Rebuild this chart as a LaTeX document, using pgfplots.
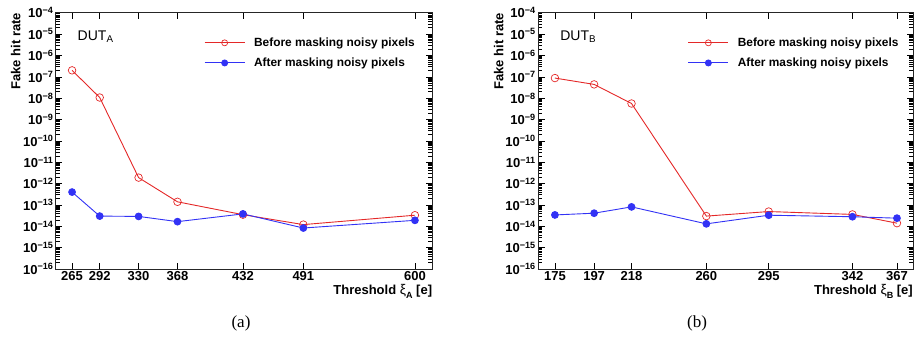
\documentclass[border=0pt]{standalone}
\usepackage{pgfplots}
\pgfplotsset{compat=1.18}
\usepackage{fontspec}
\setmainfont{Liberation Sans}
\newfontfamily\seriffont{Liberation Serif}
\definecolor{rootred}{RGB}{228,40,40}
\definecolor{rootblue}{RGB}{50,50,245}
\newcommand{\E}[1]{\textbf{10}\textsuperscript{\textbf{−#1}}}
\tikzset{
  redplot/.style={color=rootred, line width=0.9pt, mark=o, mark size=3.8pt, mark options={line width=0.7pt}},
  blueplot/.style={color=rootblue, line width=0.9pt, mark=*, mark size=3.4pt},
}
\pgfplotsset{mylegimg/.style={legend image code/.code={\draw[mark repeat=2,mark phase=2,##1,mark size=3pt] plot coordinates {(0pt,0pt) (20pt,0pt) (40pt,0pt)};}}}
\begin{document}
\begin{tikzpicture}
\path[use as bounding box] (0pt,0pt) rectangle (916pt,338pt);
\begin{axis}[at={(55.7pt,69pt)}, anchor=south west, width=376.6pt,
    scale only axis, height=256.3pt,
    ymode=log, ymin=1e-16, ymax=1e-4,
    ytick={1e-16,1e-15,1e-14,1e-13,1e-12,1e-11,1e-10,1e-9,1e-8,1e-7,1e-6,1e-5,1e-4},
    yticklabels={\E{16},\E{15},\E{14},\E{13},\E{12},\E{11},\E{10},\E{9},\E{8},\E{7},\E{6},\E{5},\E{4}},
    tick align=inside,
    major tick length=6.5pt, minor tick length=4pt,
    tick style={black, line width=0.5pt},
    axis line style={line width=0.8pt, black!85},
    xmin=249, xmax=617,
    xtick={265,292,330,368,432,491,600},
    xticklabels={265,292,330,368,432,491,600},
    xticklabel style={font=\bfseries\fontsize{13}{15}\selectfont, inner sep=1pt, yshift=-1pt},
    yticklabel style={font=\fontsize{13}{15}\selectfont, inner sep=1pt, xshift=-1pt},
    xlabel style={at={(rel axis cs:1,0)}, anchor=north east, inner sep=0pt, yshift=-15pt, font=\bfseries\fontsize{13}{15}\selectfont},
    ylabel style={at={(rel axis cs:-0.1062,1)}, anchor=east, inner sep=0pt, font=\bfseries\fontsize{13}{15}\selectfont},
    xlabel={Threshold {\mdseries\fontsize{14}{15}\selectfont ξ}\raisebox{-4.5pt}{\fontsize{9}{10}\selectfont A} [e]},
    ylabel={Fake hit rate},
    legend style={at={(rel axis cs:0.3938,0.903)}, draw=none, fill=none, inner sep=0pt, anchor=north west,
      font=\bfseries\fontsize{11.9}{13}\selectfont, row sep=10pt, nodes={inner sep=0pt},
      /tikz/every odd column/.append style={column sep=9pt}},
    legend cell align=left]
\addplot[redplot, mylegimg] coordinates {(265,2.0e-7) (292,1.07e-8) (330,1.9e-12) (368,1.4e-13) (432,3.5e-14) (491,1.2e-14) (600,3.3e-14)};
\addlegendentry{Before masking noisy pixels}
\addplot[blueplot, mylegimg] coordinates {(265,4.0e-13) (292,3.0e-14) (330,2.9e-14) (368,1.65e-14) (432,3.8e-14) (491,8.3e-15) (600,1.9e-14)};
\addlegendentry{After masking noisy pixels}
\node[anchor=base west, inner sep=0pt, font=\fontsize{14}{15}\selectfont] at (rel axis cs:0.058,0.891) {DUT\textsubscript{A}};
\end{axis}
\begin{axis}[at={(538pt,69pt)}, anchor=south west, width=375pt,
    scale only axis, height=256.3pt,
    ymode=log, ymin=1e-16, ymax=1e-4,
    ytick={1e-16,1e-15,1e-14,1e-13,1e-12,1e-11,1e-10,1e-9,1e-8,1e-7,1e-6,1e-5,1e-4},
    yticklabels={\E{16},\E{15},\E{14},\E{13},\E{12},\E{11},\E{10},\E{9},\E{8},\E{7},\E{6},\E{5},\E{4}},
    tick align=inside,
    major tick length=6.5pt, minor tick length=4pt,
    tick style={black, line width=0.5pt},
    axis line style={line width=0.8pt, black!85},
    xmin=165.5, xmax=376,
    xtick={175,197,218,260,295,342,367},
    xticklabels={175,197,218,260,295,342,367},
    xticklabel style={font=\bfseries\fontsize{13}{15}\selectfont, inner sep=1pt, yshift=-1pt},
    yticklabel style={font=\fontsize{13}{15}\selectfont, inner sep=1pt, xshift=-1pt},
    xlabel style={at={(rel axis cs:1,0)}, anchor=north east, inner sep=0pt, yshift=-15pt, font=\bfseries\fontsize{13}{15}\selectfont},
    ylabel style={at={(rel axis cs:-0.1048,1)}, anchor=east, inner sep=0pt, font=\bfseries\fontsize{13}{15}\selectfont},
    xlabel={Threshold {\mdseries\fontsize{14}{15}\selectfont ξ}\raisebox{-4.5pt}{\fontsize{9}{10}\selectfont B} [e]},
    ylabel={Fake hit rate},
    legend style={at={(rel axis cs:0.3992,0.903)}, draw=none, fill=none, inner sep=0pt, anchor=north west,
      font=\bfseries\fontsize{11.9}{13}\selectfont, row sep=10pt, nodes={inner sep=0pt},
      /tikz/every odd column/.append style={column sep=9pt}},
    legend cell align=left]
\addplot[redplot, mylegimg] coordinates {(175,8.7e-8) (197,4.4e-8) (218,5.6e-9) (260,3.0e-14) (295,4.9e-14) (342,3.6e-14) (367,1.4e-14)};
\addlegendentry{Before masking noisy pixels}
\addplot[blueplot, mylegimg] coordinates {(175,3.4e-14) (197,4.1e-14) (218,8.1e-14) (260,1.3e-14) (295,3.3e-14) (342,2.8e-14) (367,2.4e-14)};
\addlegendentry{After masking noisy pixels}
\node[anchor=base west, inner sep=0pt, font=\fontsize{14}{15}\selectfont] at (rel axis cs:0.059,0.891) {DUT\textsubscript{B}};
\end{axis}
\node[font=\seriffont\fontsize{17}{19}\selectfont] at (241pt,15pt) {(a)};
\node[font=\seriffont\fontsize{17}{19}\selectfont] at (697pt,15pt) {(b)};
\end{tikzpicture}
\end{document}
